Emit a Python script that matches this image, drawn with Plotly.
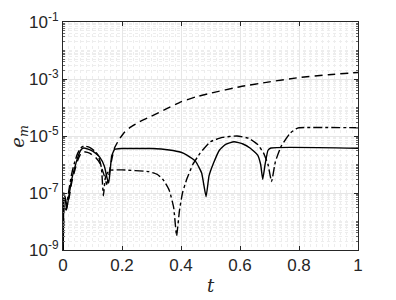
import numpy as np
import plotly.graph_objects as go

# ---- data (log10 of e_m) ----
t_solid = [0, 0.003, 0.007, 0.012, 0.02, 0.03, 0.04, 0.05, 0.06, 0.07, 0.09, 0.11, 0.125, 0.14, 0.15, 0.155,
           0.16, 0.165, 0.175, 0.2, 0.3, 0.36, 0.4, 0.42, 0.45, 0.47, 0.485, 0.495, 0.51, 0.53, 0.55, 0.58,
           0.61, 0.635, 0.66, 0.67, 0.677, 0.685, 0.695, 0.705, 1.0]
log_solid = [-10, -7.3, -7.1, -7.6, -7.1, -6.5, -6.1, -5.75, -5.5, -5.42, -5.48, -5.6, -5.75, -6.05, -6.5, -6.65,
             -6.2, -5.7, -5.47, -5.44, -5.44, -5.49, -5.57, -5.67, -5.9, -6.3, -7.13, -6.4, -5.96, -5.5, -5.3, -5.2,
             -5.28, -5.43, -5.67, -6.0, -6.52, -6.0, -5.5, -5.42, -5.43]

t_dashdot = [0, 0.003, 0.008, 0.012, 0.02, 0.03, 0.04, 0.05, 0.06, 0.07, 0.09, 0.11, 0.12, 0.13, 0.137, 0.143,
             0.15, 0.16, 0.2, 0.29, 0.32, 0.34, 0.36, 0.375, 0.385, 0.395, 0.405, 0.42, 0.44, 0.465, 0.5, 0.54,
             0.59, 0.63, 0.66, 0.68, 0.695, 0.707, 0.72, 0.74, 0.77, 0.79, 0.8, 1.0]
log_dashdot = [-10, -7.0, -7.2, -7.4, -6.9, -6.3, -5.9, -5.6, -5.42, -5.35, -5.4, -5.55, -5.7, -6.1, -7.1, -6.5,
               -6.3, -6.2, -6.19, -6.25, -6.35, -6.54, -6.9, -7.5, -8.5, -7.6, -7.0, -6.5, -6.0, -5.6, -5.2, -5.05,
               -5.0, -5.08, -5.3, -5.6, -6.0, -6.6, -5.9, -5.35, -4.9, -4.75, -4.71, -4.71]

t_dashed = [0, 0.004, 0.01, 0.02, 0.03, 0.04, 0.05, 0.06, 0.07, 0.09, 0.11, 0.125, 0.14, 0.148, 0.155, 0.16,
            0.168, 0.176, 0.193, 0.21, 0.23, 0.26, 0.3, 0.35, 0.4, 0.45, 0.5, 0.6, 0.7, 0.8, 0.9, 1.0]
log_dashed = [-10, -7.4, -7.6, -7.2, -6.6, -6.2, -5.85, -5.62, -5.55, -5.6, -5.75, -5.95, -6.4, -6.7, -6.4, -6.1,
              -5.7, -5.39, -5.08, -4.85, -4.68, -4.5, -4.3, -4.05, -3.8, -3.63, -3.5, -3.27, -3.1, -2.95, -2.85, -2.77]

y_major = [1e-9, 1e-7, 1e-5, 1e-3, 1e-1]
y_major_text = ["10<sup>-9</sup>", "10<sup>-7</sup>", "10<sup>-5</sup>", "10<sup>-3</sup>", "10<sup>-1</sup>"]
y_minor = [m * 10.0 ** k for k in range(-9, -1) for m in range(1, 10) if not (m == 1 and k % 2 != 0)]
x_major = [0, 0.2, 0.4, 0.6, 0.8, 1]
x_major_text = ["0", "0.2", "0.4", "0.6", "0.8", "1"]
y_title = "<i>e<sub>m</sub></i>"
x_title = "<i>t</i>"

fig = go.Figure()
for tt, ll, dash in [(t_dashed, log_dashed, "8px,5px"), (t_dashdot, log_dashdot, "dashdot"), (t_solid, log_solid, "solid")]:
    fig.add_trace(go.Scatter(x=tt, y=[10.0 ** v for v in ll], mode="lines",
                             line=dict(color="black", width=1.4, dash=dash, shape="spline", smoothing=0.4),
                             showlegend=False))

font = dict(family="Liberation Sans, Arial, sans-serif", size=17, color="#262626")
fig.update_layout(
    width=396, height=300, margin=dict(l=55, r=46, t=14, b=58),
    paper_bgcolor="white", plot_bgcolor="white", font=font,
    xaxis=dict(range=[0, 1], tickvals=x_major, ticktext=x_major_text, showgrid=True,
               gridcolor="#e6e6e6", gridwidth=1, ticks="inside", ticklen=4, tickcolor="#262626",
               showline=True, linecolor="#262626", linewidth=1, mirror="ticks", zeroline=False,
               automargin=False,
               minor=dict(dtick=0.02, showgrid=True, gridcolor="#ededed", griddash="dot", ticks=""),
               title=dict(text=x_title, standoff=4, font=dict(size=18, family="DejaVu Serif, serif"))),
    yaxis=dict(type="log", range=[-9, -1], tickvals=y_major, ticktext=y_major_text, showgrid=True,
               gridcolor="#e6e6e6", gridwidth=1, ticks="inside", ticklen=4, tickcolor="#262626",
               showline=True, linecolor="#262626", linewidth=1, mirror="ticks", zeroline=False,
               automargin=False,
               minor=dict(tickvals=y_minor, showgrid=True, gridcolor="#ededed", griddash="dot",
                          ticks="inside", ticklen=2, tickcolor="#666")),
    annotations=[dict(text=y_title, xref="paper", yref="paper", x=-0.15, y=0.5, xanchor="center",
                      yanchor="middle", textangle=-90, showarrow=False,
                      font=dict(size=18, family="DejaVu Serif, serif", color="#262626"))],
)
fig.write_html("out.html")
